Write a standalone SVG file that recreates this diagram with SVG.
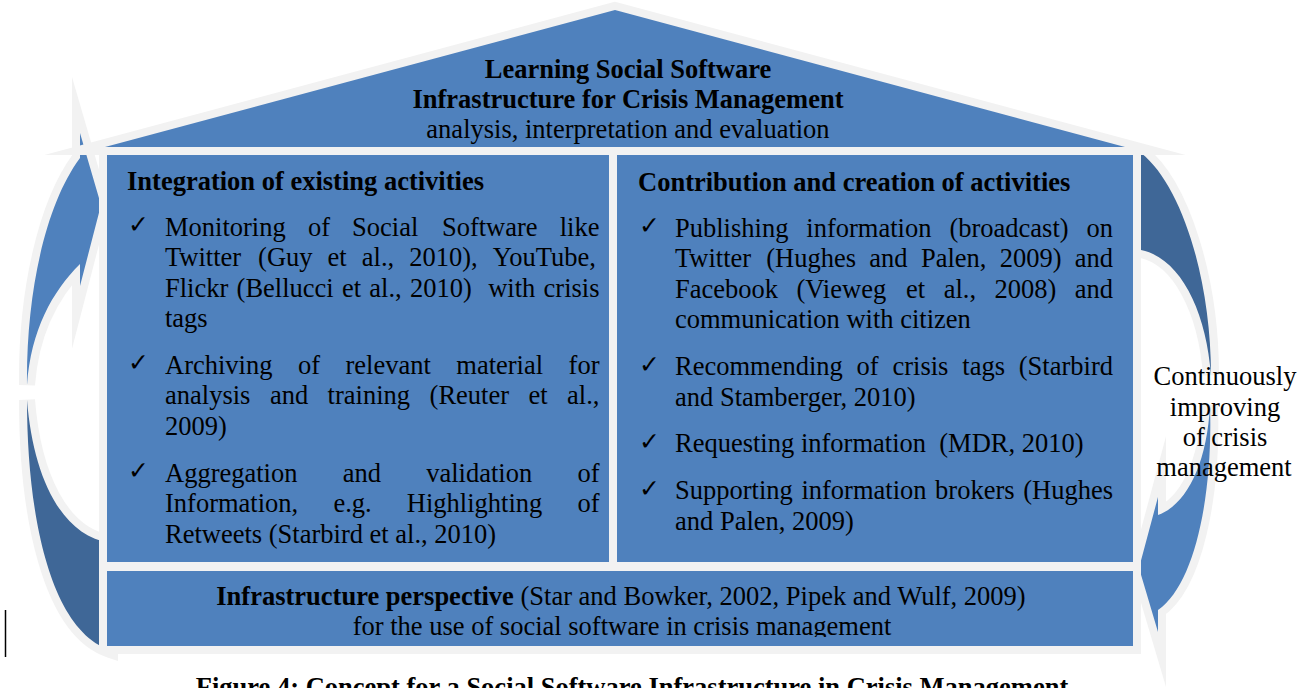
<svg xmlns="http://www.w3.org/2000/svg" width="1309" height="688" viewBox="0 0 1309 688">
  <defs>
    <style>
      .shape { stroke: #f2f2f2; stroke-width: 16; stroke-linejoin: miter; stroke-miterlimit: 10; paint-order: stroke; }
      .blue { fill: #4f81bd; }
      .dark { fill: #3f6797; }
      text { font-family: "Liberation Serif", "Times New Roman", serif; font-size: 26.5px; fill: #000; }
      .b { font-weight: bold; }
      .mid { text-anchor: middle; }
      .chk { font-family: "DejaVu Sans", sans-serif; font-size: 25px; }
    </style>
    <clipPath id="bottomClip">
      <rect x="107" y="571" width="1026" height="66"/>
    </clipPath>
  </defs>

  <rect width="1309" height="688" fill="#ffffff"/>

  <!-- cycle arrows around the house -->
  <g id="connectors">
    <!-- left arrow: lower (dark) half -->
    <path class="shape dark" d="M27,400 C27,515 50,630 110,650 L110,543 C60,535 33,475 27,400 Z"/>
    <!-- left arrow: upper half with head -->
    <path class="shape blue" d="M80,158 L80,133 L101,205 L80,286 L80,264 C52,292 31,330 27,385 C26,295 45,205 80,158 Z"/>
    <!-- right arrow: upper (dark) half -->
    <path class="shape dark" d="M1125,153 L1141,153 C1182,185 1211,280 1211,375 C1206,310 1180,258 1141,250 L1125,250 Z"/>
    <!-- right arrow: lower half with head -->
    <path class="shape blue" d="M1210,405 C1213,495 1195,585 1158,610 L1158,632 L1139,568 L1158,497 L1158,515 C1186,505 1207,465 1210,405 Z"/>
  </g>

  <!-- roof -->
  <g id="roof">
    <polygon class="shape blue" points="615,10 105,147 1125,147"/>
    <text class="mid b" x="628" y="77.5">Learning Social Software</text>
    <text class="mid b" x="628" y="107.5">Infrastructure for Crisis Management</text>
    <text class="mid" x="628" y="137.5">analysis, interpretation and evaluation</text>
  </g>

  <!-- left column -->
  <g id="integration">
    <rect class="shape blue" x="107" y="155" width="503" height="407"/>
    <text class="b" x="127" y="189.5">Integration of existing activities</text>
    <text class="chk" x="128" y="233">✓</text>
    <text y="235.5"><tspan x="165">Monitoring</tspan><tspan x="307.9">of</tspan><tspan x="352.1">Social</tspan><tspan x="441.9">Software</tspan><tspan x="559.7">like</tspan></text>
    <text y="266"><tspan x="165">Twitter</tspan><tspan x="258.1">(Guy</tspan><tspan x="327.6">et</tspan><tspan x="361.8">al.,</tspan><tspan x="409.3">2010),</tspan><tspan x="492.8">YouTube,</tspan></text>
    <text y="296.5"><tspan x="165">Flickr</tspan><tspan x="236.6">(Bellucci</tspan><tspan x="341.9">et</tspan><tspan x="369.3">al.,</tspan><tspan x="409.9">2010)</tspan><tspan x="488.2">with</tspan><tspan x="543.6">crisis</tspan></text>
    <text x="165" y="327">tags</text>
    <text class="chk" x="128" y="371">✓</text>
    <text y="373.5"><tspan x="165">Archiving</tspan><tspan x="297.9">of</tspan><tspan x="345.5">relevant</tspan><tspan x="456.3">material</tspan><tspan x="568.6">for</tspan></text>
    <text y="404"><tspan x="165">analysis</tspan><tspan x="269.9">and</tspan><tspan x="327.6">training</tspan><tspan x="429.6">(Reuter</tspan><tspan x="528.5">et</tspan><tspan x="567.1">al.,</tspan></text>
    <text x="165" y="434.5">2009)</text>
    <text class="chk" x="128" y="479">✓</text>
    <text y="481.5"><tspan x="165">Aggregation</tspan><tspan x="342.7">and</tspan><tspan x="426.2">validation</tspan><tspan x="577.4">of</tspan></text>
    <text y="512"><tspan x="165">Information,</tspan><tspan x="333.4">e.g.</tspan><tspan x="406.8">Highlighting</tspan><tspan x="577.4">of</tspan></text>
    <text x="165" y="542.5">Retweets (Starbird et al., 2010)</text>
  </g>

  <!-- right column -->
  <g id="contribution">
    <rect class="shape blue" x="617" y="155" width="516" height="407"/>
    <text class="b" x="638" y="190.5">Contribution and creation of activities</text>
    <text class="chk" x="639" y="234">✓</text>
    <text y="236.5"><tspan x="675">Publishing</tspan><tspan x="806.3">information</tspan><tspan x="949.4">(broadcast)</tspan><tspan x="1086.5">on</tspan></text>
    <text y="267"><tspan x="675">Twitter</tspan><tspan x="766.3">(Hughes</tspan><tspan x="869.3">and</tspan><tspan x="920.9">Palen,</tspan><tspan x="999.7">2009)</tspan><tspan x="1074.7">and</tspan></text>
    <text y="297.5"><tspan x="675">Facebook</tspan><tspan x="796.5">(Vieweg</tspan><tspan x="906.1">et</tspan><tspan x="943.7">al.,</tspan><tspan x="994.5">2008)</tspan><tspan x="1074.7">and</tspan></text>
    <text x="675" y="328">communication with citizen</text>
    <text class="chk" x="639" y="372.5">✓</text>
    <text y="375"><tspan x="675">Recommending</tspan><tspan x="856.6">of</tspan><tspan x="892.5">crisis</tspan><tspan x="962.3">tags</tspan><tspan x="1018.8">(Starbird</tspan></text>
    <text x="675" y="405.5">and Stamberger, 2010)</text>
    <text class="chk" x="639" y="449.5">✓</text>
    <text y="452"><tspan x="675">Requesting</tspan><tspan x="800.9">information</tspan><tspan x="939.3">(MDR, 2010)</tspan></text>
    <text class="chk" x="639" y="496.5">✓</text>
    <text y="499"><tspan x="675">Supporting</tspan><tspan x="801.4">information</tspan><tspan x="935.1">brokers</tspan><tspan x="1023.2">(Hughes</tspan></text>
    <text x="675" y="529.5">and Palen, 2009)</text>
  </g>

  <!-- foundation -->
  <g id="infrastructure">
    <rect class="shape blue" x="107" y="571" width="1026" height="75"/>
    <g clip-path="url(#bottomClip)">
      <text class="mid" x="621" y="605"><tspan class="b">Infrastructure perspective</tspan> (Star and Bowker, 2002, Pipek and Wulf, 2009)</text>
      <text class="mid" x="622" y="634.5">for the use of social software in crisis management</text>
    </g>
  </g>

  <!-- cycle label -->
  <g id="cycle-label">
    <text class="mid" x="1225" y="385">Continuously</text>
    <text class="mid" x="1225" y="415.5">improving</text>
    <text class="mid" x="1225" y="446">of crisis</text>
    <text class="mid" x="1224" y="476">management</text>
  </g>

  <!-- caption, running off the lower edge of the page -->
  <text class="mid b" x="632" y="695.5">Figure 4: Concept for a Social Software Infrastructure in Crisis Management</text>

  <line x1="5.5" y1="610" x2="5.5" y2="657" stroke="#000" stroke-width="1.5"/>
</svg>
